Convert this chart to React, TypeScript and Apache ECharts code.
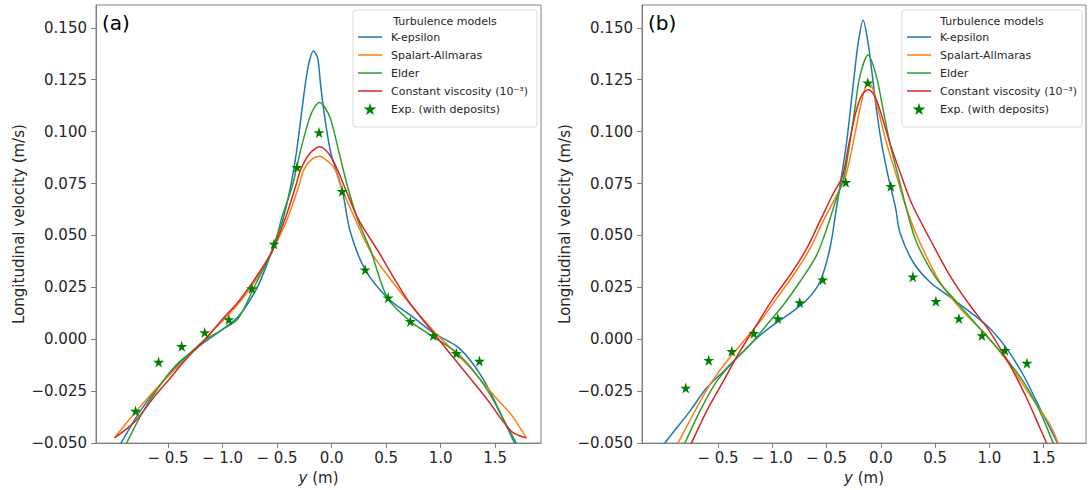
import React, { useEffect, useRef } from "react";
import * as echarts from "echarts";

// ---------- data ----------
const xTickValues = [-1.5, -1.0, -0.5, 0, 0.5, 1.0, 1.5];
const xTickLabels = ["− 0.5", "− 1.0", "− 0.5", "0.0", "0.5", "1.0", "1.5"];
const yTickValues = [-0.05, -0.025, 0, 0.025, 0.05, 0.075, 0.1, 0.125, 0.15];
const yTickLabels = ["−0.050", "−0.025", "0.000", "0.025", "0.050", "0.075", "0.100", "0.125", "0.150"];

const seriesNames = ["K-epsilon", "Spalart-Allmaras", "Elder", "Constant viscosity (10⁻³)", "Exp. (with deposits)"];

// Panel (a)
const kEpsilonA: [number, number][] = [
  [-1.96, -0.053], [-1.93, -0.05], [-1.776, -0.0363], [-1.622, -0.0251], [-1.469, -0.0156], [-1.316, -0.0076],
  [-1.163, -0.0012], [-1.009, 0.0044], [-0.857, 0.0108], [-0.703, 0.0228], [-0.6, 0.035], [-0.52, 0.047],
  [-0.445, 0.058], [-0.375, 0.0738], [-0.323, 0.0898], [-0.283, 0.1058], [-0.244, 0.1217], [-0.21, 0.1325],
  [-0.167, 0.1388], [-0.128, 0.1355], [-0.099, 0.1217], [-0.06, 0.1058], [-0.007, 0.0898], [0.099, 0.0715],
  [0.17, 0.052], [0.308, 0.0335], [0.513, 0.0199], [0.743, 0.0108], [0.942, 0.0028], [1.172, -0.0044],
  [1.386, -0.0188], [1.57, -0.038], [1.677, -0.05], [1.71, -0.054],
];
const spalartA: [number, number][] = [
  [-1.99, -0.0475], [-1.868, -0.0395], [-1.714, -0.03], [-1.56, -0.0211], [-1.408, -0.0131], [-1.255, -0.0052],
  [-1.101, 0.0036], [-0.949, 0.0116], [-0.795, 0.0211], [-0.642, 0.0331], [-0.519, 0.0451], [-0.406, 0.0579],
  [-0.3, 0.0738], [-0.253, 0.0818], [-0.18, 0.0868], [-0.109, 0.0882], [-0.03, 0.0855], [0.032, 0.0818],
  [0.084, 0.0738], [0.216, 0.0579], [0.36, 0.042], [0.68, 0.0195], [0.942, 0.0036], [1.248, -0.0124],
  [1.509, -0.0283], [1.647, -0.0363], [1.785, -0.0475],
];
const elderA: [number, number][] = [
  [-1.91, -0.053], [-1.88, -0.05], [-1.745, -0.0363], [-1.592, -0.0236], [-1.438, -0.0131], [-1.285, -0.006],
  [-1.163, -0.0004], [-1.009, 0.0044], [-0.857, 0.01], [-0.703, 0.0259], [-0.53, 0.044], [-0.46, 0.058],
  [-0.36, 0.0738], [-0.29, 0.0898], [-0.207, 0.1058], [-0.16, 0.1115], [-0.109, 0.114], [-0.06, 0.1115],
  [-0.007, 0.1058], [0.069, 0.0898], [0.145, 0.0738], [0.237, 0.0579], [0.36, 0.0425], [0.513, 0.0199],
  [0.728, 0.0084], [0.942, 0.0009], [1.172, -0.0076], [1.417, -0.0235], [1.6, -0.041], [1.693, -0.05], [1.72, -0.053],
];
const constViscA: [number, number][] = [
  [-1.99, -0.0475], [-1.868, -0.0427], [-1.776, -0.038], [-1.622, -0.0275], [-1.469, -0.018], [-1.316, -0.0084],
  [-1.163, -0.0004], [-1.009, 0.0092], [-0.857, 0.018], [-0.703, 0.0291], [-0.55, 0.042], [-0.427, 0.0579],
  [-0.329, 0.0738], [-0.283, 0.0818], [-0.2, 0.0895], [-0.109, 0.0927], [-0.02, 0.089], [0.053, 0.0818],
  [0.115, 0.0738], [0.245, 0.0579], [0.42, 0.043], [0.697, 0.0189], [0.926, 0.0036], [1.172, -0.0124],
  [1.417, -0.0283], [1.647, -0.0443], [1.785, -0.0475],
];
const expA: [number, number][] = [
  [-1.797, -0.0346], [-1.586, -0.011], [-1.374, -0.0034], [-1.163, 0.0033], [-0.942, 0.0095], [-0.731, 0.0244],
  [-0.528, 0.0459], [-0.317, 0.0828], [-0.115, 0.0996], [0.097, 0.0713], [0.308, 0.0335], [0.519, 0.02],
  [0.722, 0.0086], [0.933, 0.0018], [1.144, -0.0068], [1.356, -0.0105],
];

// Panel (b)
const kEpsilonB: [number, number][] = [
  [-2.02, -0.053], [-1.99, -0.05], [-1.76, -0.0347], [-1.606, -0.0235], [-1.453, -0.0156], [-1.3, -0.0076],
  [-1.146, 0.0004], [-0.993, 0.0068], [-0.839, 0.0124], [-0.685, 0.0188], [-0.562, 0.0276], [-0.47, 0.0435],
  [-0.41, 0.0627], [-0.362, 0.0786], [-0.316, 0.0946], [-0.28, 0.1106], [-0.246, 0.1265], [-0.209, 0.1425],
  [-0.163, 0.1537], [-0.117, 0.1425], [-0.077, 0.1265], [-0.04, 0.1106], [0.006, 0.0946], [0.067, 0.0786],
  [0.138, 0.0627], [0.175, 0.0515], [0.298, 0.0371], [0.452, 0.0276], [0.636, 0.0204], [0.82, 0.0132],
  [1.005, 0.0052], [1.158, -0.0044], [1.312, -0.0172], [1.465, -0.0331], [1.634, -0.0507], [1.66, -0.054],
];
const spalartB: [number, number][] = [
  [-1.9, -0.053], [-1.868, -0.05], [-1.73, -0.0363], [-1.576, -0.022], [-1.422, -0.0108], [-1.269, -0.0012],
  [-1.115, 0.0084], [-0.961, 0.0196], [-0.808, 0.0307], [-0.654, 0.0435], [-0.53, 0.057], [-0.42, 0.068],
  [-0.325, 0.0786], [-0.255, 0.0946], [-0.194, 0.1106], [-0.15, 0.12], [-0.11, 0.1237], [-0.07, 0.12],
  [-0.025, 0.1106], [0.052, 0.0946], [0.145, 0.0786], [0.237, 0.0627], [0.359, 0.0467], [0.544, 0.0276],
  [0.759, 0.0132], [0.974, 0.002], [1.189, -0.0124], [1.373, -0.0268], [1.558, -0.0411], [1.634, -0.05], [1.66, -0.053],
];
const elderB: [number, number][] = [
  [-1.84, -0.053], [-1.806, -0.05], [-1.668, -0.0347], [-1.514, -0.0204], [-1.361, -0.0108], [-1.207, -0.0028],
  [-1.053, 0.0068], [-0.9, 0.0164], [-0.747, 0.0276], [-0.593, 0.0403], [-0.5, 0.053], [-0.42, 0.066],
  [-0.338, 0.0786], [-0.286, 0.0946], [-0.24, 0.1106], [-0.194, 0.1265], [-0.117, 0.1369], [-0.04, 0.1265],
  [0.021, 0.1106], [0.083, 0.0946], [0.16, 0.0786], [0.237, 0.0627], [0.329, 0.0467], [0.513, 0.0291],
  [0.698, 0.018], [0.912, 0.0052], [1.127, -0.0076], [1.312, -0.0203], [1.465, -0.0347], [1.588, -0.05], [1.61, -0.053],
];
const constViscB: [number, number][] = [
  [-1.78, -0.053], [-1.745, -0.05], [-1.606, -0.0347], [-1.453, -0.0204], [-1.3, -0.006], [-1.146, 0.0068],
  [-0.993, 0.0196], [-0.839, 0.0307], [-0.685, 0.0435], [-0.56, 0.057], [-0.45, 0.069], [-0.353, 0.0786],
  [-0.292, 0.0946], [-0.224, 0.1106], [-0.17, 0.118], [-0.117, 0.1202], [-0.06, 0.1175], [-0.009, 0.1106],
  [0.083, 0.0946], [0.19, 0.0786], [0.283, 0.0655], [0.452, 0.0483], [0.636, 0.0307], [0.82, 0.0164],
  [1.005, 0.0036], [1.189, -0.0124], [1.343, -0.0283], [1.465, -0.0427], [1.527, -0.05], [1.55, -0.053],
];
const expB: [number, number][] = [
  [-1.797, -0.0235], [-1.585, -0.0101], [-1.373, -0.0058], [-1.17, 0.0029], [-0.949, 0.01], [-0.747, 0.0177],
  [-0.535, 0.0287], [-0.323, 0.0756], [-0.12, 0.1235], [0.092, 0.0737], [0.295, 0.0301], [0.507, 0.0183],
  [0.719, 0.01], [0.931, 0.0018], [1.143, -0.0053], [1.346, -0.0115],
];

const lineColors = ["#1f77b4", "#ff7f0e", "#2ca02c", "#d62728"];
const starColor = "#008000";
const STAR = "path://M50,0 L61.2,34.5 L97.6,34.5 L68.2,55.9 L79.4,90.5 L50,69.1 L20.6,90.5 L31.8,55.9 L2.4,34.5 L38.8,34.5 Z";
const LINE_ICON = "path://M0,0 L0.01,0 M0,5.25 L24,5.25 L24,6.75 L0,6.75 Z M0,12 L0.01,12";
const FONT = "DejaVu Sans";
const TXT = "#262626";
const AX = "#808080";

const panels = [
  { tag: "(a)", curves: [kEpsilonA, spalartA, elderA, constViscA], exp: expA, grid: { left: 96, top: 5, width: 445, height: 440 }, xMin: -2.16, xMax: 1.92, legendX: 353, legendW: 184 },
  { tag: "(b)", curves: [kEpsilonB, spalartB, elderB, constViscB], exp: expB, grid: { left: 642, top: 5, width: 444, height: 440 }, xMin: -2.2, xMax: 1.89, legendX: 902, legendW: 180 },
];

function xFmt(v: number) {
  const i = xTickValues.findIndex((t) => Math.abs(t - v) < 1e-6);
  return i >= 0 ? xTickLabels[i] : "";
}
function yFmt(v: number) {
  const i = yTickValues.findIndex((t) => Math.abs(t - v) < 1e-9);
  return i >= 0 ? yTickLabels[i] : "";
}

export default function App() {
  const ref = useRef<HTMLDivElement>(null);
  useEffect(() => {
    if (!ref.current) return;
    const chart = echarts.init(ref.current, undefined, { renderer: "svg" });
    const grids: any[] = [];
    const xAxes: any[] = [];
    const yAxes: any[] = [];
    const series: any[] = [];
    const legends: any[] = [];
    const graphics: any[] = [];
    panels.forEach((p, pi) => {
      grids.push({ ...p.grid, show: true, borderColor: AX, borderWidth: 1, backgroundColor: "transparent" });
      xAxes.push({
        type: "value", gridIndex: pi, min: p.xMin, max: p.xMax,
        name: "{i|y} (m)", nameLocation: "middle", nameGap: 25,
        nameTextStyle: { fontFamily: FONT, fontSize: 15, color: TXT, rich: { i: { fontStyle: "italic", fontFamily: FONT, fontSize: 15, color: TXT } } },
        axisLine: { show: true, onZero: false, lineStyle: { color: AX, width: 1 } },
        axisTick: { show: true, length: 5, customValues: xTickValues, lineStyle: { color: AX } },
        axisLabel: { customValues: xTickValues, formatter: xFmt, fontFamily: FONT, fontSize: 15, color: TXT, margin: 7 },
        splitLine: { show: false },
      });
      yAxes.push({
        type: "value", gridIndex: pi, min: -0.05, max: 0.161,
        name: "Longitudinal velocity (m/s)", nameLocation: "middle", nameGap: 70, nameRotate: 90,
        nameTextStyle: { fontFamily: FONT, fontSize: 15, color: TXT },
        axisLine: { show: true, onZero: false, lineStyle: { color: AX, width: 1 } },
        axisTick: { show: true, length: 5, customValues: yTickValues, lineStyle: { color: AX } },
        axisLabel: { customValues: yTickValues, formatter: yFmt, fontFamily: FONT, fontSize: 15, color: TXT, margin: 9 },
        splitLine: { show: false },
      });
      p.curves.forEach((c, ci) => {
        series.push({
          type: "line", name: seriesNames[ci], xAxisIndex: pi, yAxisIndex: pi, data: c,
          symbol: "none", smooth: 0.3, clip: true,
          lineStyle: { color: lineColors[ci], width: 1.5 }, itemStyle: { color: lineColors[ci] },
        });
      });
      series.push({
        type: "scatter", name: seriesNames[4], xAxisIndex: pi, yAxisIndex: pi, data: p.exp,
        symbol: STAR, symbolSize: 11, itemStyle: { color: starColor, opacity: 1 }, z: 5,
      });
      legends.push({
        data: seriesNames.map((n, i) => (i < 4 ? { name: n, icon: LINE_ICON } : { name: n, itemStyle: { color: starColor, opacity: 1 } })),
        orient: "vertical", left: p.legendX + 5, top: 31,
        itemWidth: 24, itemHeight: 12, itemGap: 6, padding: 0, selectedMode: false,
        textStyle: { fontFamily: FONT, fontSize: 11, color: TXT, padding: [0, 0, 0, 4] },
      });
      graphics.push({
        type: "rect", shape: { x: p.legendX, y: 10, width: p.legendW, height: 117, r: 3 },
        style: { fill: "rgba(255,255,255,0.8)", stroke: "#d9d9d9", lineWidth: 1 }, z: 1,
      });
      graphics.push({
        type: "text", x: p.legendX + p.legendW / 2, y: 21,
        style: { text: "Turbulence models", font: `11px '${FONT}'`, fill: TXT, align: "center", verticalAlign: "middle" }, z: 2,
      });
      graphics.push({
        type: "text", x: p.grid.left + 6, y: 23,
        style: { text: p.tag, font: `20px '${FONT}'`, fill: "#000", align: "left", verticalAlign: "middle" }, z: 2,
      });
    });
    chart.setOption({
      animation: false,
      backgroundColor: "#fff",
      grid: grids, xAxis: xAxes, yAxis: yAxes, series, legend: legends, graphic: graphics,
    });
    return () => chart.dispose();
  }, []);
  return <div ref={ref} style={{ position: "fixed", left: 0, top: 0, width: 1090, height: 490 }} />;
}
